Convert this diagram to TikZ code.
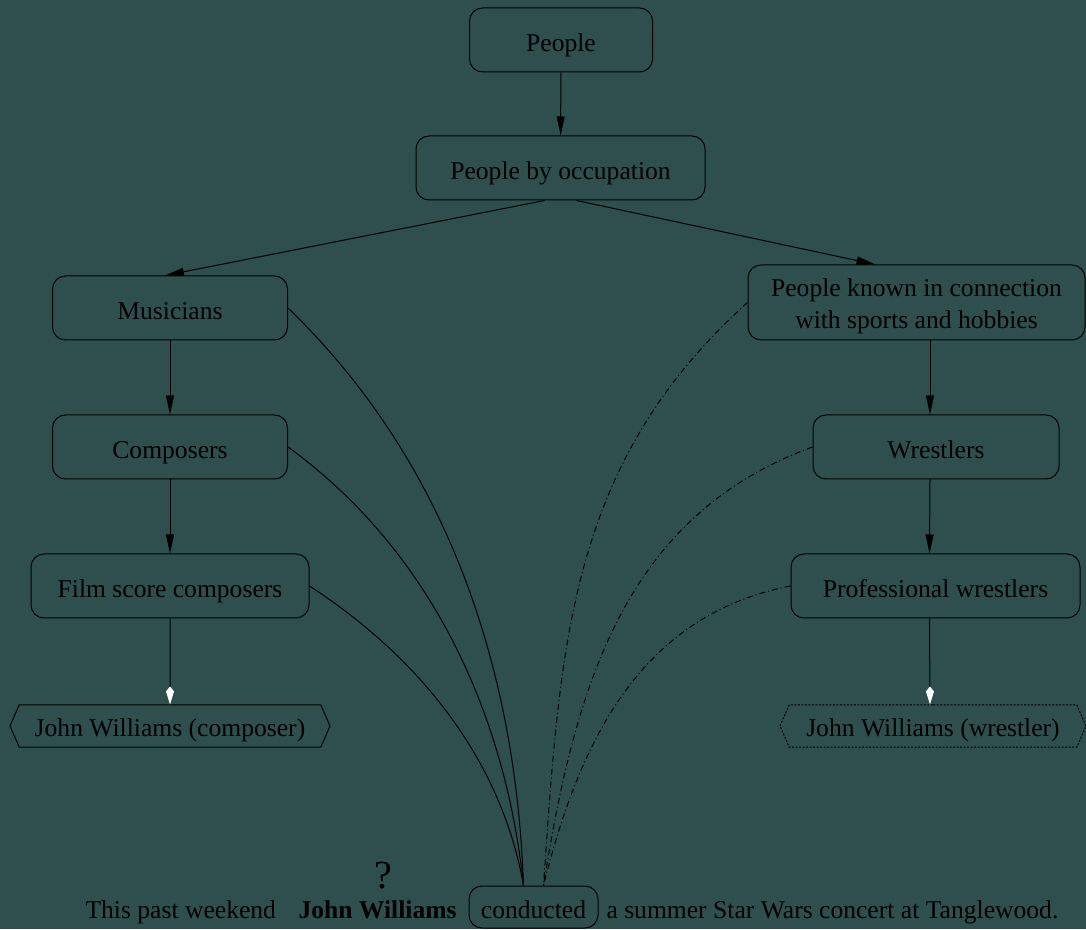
\documentclass[tikz,border=0pt]{standalone}
\usepackage{fontspec}
\setmainfont{Liberation Serif}
\usetikzlibrary{arrows.meta, shapes.symbols}
\definecolor{slatebg}{RGB}{47,79,79}

\begin{document}
\begin{tikzpicture}[x=1pt, y=1pt, line width=1pt,
    font=\fontsize{25.6}{32}\selectfont,
    cat/.style={draw, rounded corners=13pt, minimum height=64pt, align=center, inner sep=0pt,
        text height=24pt, text depth=0pt},
    page/.style={draw, shape=signal, signal to=west and east, signal pointer angle=133,
        minimum height=42pt, inner sep=0pt, text height=20pt, text depth=0pt},
    isa/.style={-{Triangle[length=19pt, width=8pt]}},
    inst/.style={-{Kite[length=18pt, width=8pt, inset=5pt, fill=white, color=white]}},
    sense/.style={dash pattern=on 6pt off 3pt on 1pt off 3pt}]
            % background
            \useasboundingbox (0,0) rectangle (1086,929);
            \fill[slatebg] (0,0) rectangle (1086,929);

            % categories
            \node[cat, minimum width=183pt] (people) at (561,889) {People};
            \node[cat, minimum width=289pt] (occup) at (560.5,761) {People by occupation};
            \node[cat, minimum width=235pt] (music) at (170,621) {Musicians};
            \node[cat, minimum width=235pt] (comp) at (170,482) {Composers};
            \node[cat, minimum width=278pt] (film) at (170,343) {Film score composers};
            \node[cat, minimum width=337pt, minimum height=75pt, text height=53pt] (sport) at (916.5,626.5)
                {People known in connection\\with sports and hobbies};
            \node[cat, minimum width=246pt] (wrest) at (936,482) {Wrestlers};
            \node[cat, minimum width=289pt] (prowr) at (935.5,343) {Professional wrestlers};

            % the two pages
            \node[page, minimum width=320pt] (jwcomp) at (170,203) {John Williams (composer)};
            \node[page, minimum width=306pt, dash pattern=on 2pt off 1.5pt] (jwwrest) at (933,203)
                {John Williams (wrestler)};

            % the sentence
            \node[anchor=base west, inner sep=0pt] (pre) at (85,11) {This past weekend};
            \node[anchor=base west, inner sep=0pt, font=\fontsize{25.6}{32}\selectfont\bfseries] (name) at (298,11) {John Williams};
            \node[anchor=base, inner sep=0pt, font=\fontsize{40}{40}\selectfont] (ask) at (383,41) {?};
            \node[cat, minimum width=129pt, minimum height=42pt, text height=22pt] (verb) at (533.5,22) {conducted};
            \node[anchor=base west, inner sep=0pt] (post) at (606,11) {a summer Star Wars concert at Tanglewood.};

            % category edges
            \draw[isa] (people) -- (occup);
            \draw[isa] ([xshift=-16pt]occup.south) -- ([xshift=-5pt]music.north);
            \draw[isa] ([xshift=16pt]occup.south) -- ([xshift=-41pt]sport.north);
            \draw[isa] (music) -- (comp);
            \draw[isa] (comp) -- (film);
            \draw[isa] ([xshift=-6pt]wrest.north |- sport.south) -- ([xshift=-6pt]wrest.north);
            \draw[isa] ([xshift=-6pt]wrest.south) -- ([xshift=-6pt]prowr.north);
            \draw[inst] (film) -- (jwcomp);
            \draw[inst] ([xshift=-6pt]prowr.south) -- ([xshift=-3pt]jwwrest.north);

            % sense links
            \draw (music.east) to[out=-44, in=92, looseness=0.9] ([xshift=-10pt]verb.north);
            \draw (comp.east) to[out=-36, in=96, looseness=0.9] ([xshift=-10pt]verb.north);
            \draw (film.east) to[out=-33, in=100, looseness=0.9] ([xshift=-10pt]verb.north);
            \draw[sense] (sport.west) to[out=222, in=86] ([xshift=10pt]verb.north);
            \draw[sense] (wrest.west) to[out=200, in=81] ([xshift=10pt]verb.north);
            \draw[sense] (prowr.west) to[out=191, in=76] ([xshift=10pt]verb.north);
\end{tikzpicture}
\end{document}
